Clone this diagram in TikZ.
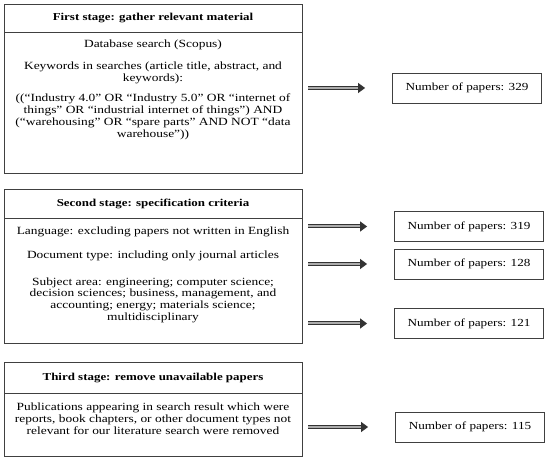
\documentclass[tikz,border=0pt]{standalone}
\usepackage{fontspec}
\setmainfont[FakeStretch=1.22]{Liberation Serif}
\usetikzlibrary{positioning,arrows.meta}

\tikzset{
  stagetitle/.style={draw=black!75, line width=0.8pt, minimum width=298pt, inner sep=0pt, font=\fontsize{10.6}{12}\selectfont\bfseries},
  stagebody/.style={draw=black!75, line width=0.8pt, minimum width=298pt, inner sep=0pt},
  bodytext/.style={align=center, inner sep=0pt, font=\fontsize{11}{11.9}\selectfont},
  countbox/.style={draw=black!75, line width=0.8pt, minimum width=149pt, minimum height=30pt, inner sep=0pt, font=\fontsize{10.8}{12}\selectfont},
  bigarrow/.style={draw=black!80, line width=1pt, double=gray!65, double distance=2pt, -{Triangle[length=7pt,width=10pt]}, shorten <=6pt, shorten >=27pt}
}

\begin{document}
\begin{tikzpicture}[x=1pt,y=-1pt]
  \useasboundingbox (0,0) rectangle (550,462);

  % first stage
  \node[stagetitle, minimum height=28pt] (s1t) at (153,18) {First stage: gather relevant material};
  \node[stagebody, minimum height=141pt, below=0pt of s1t] (s1b) {};
  \node[bodytext, below=7pt of s1b.north] (s1x) {Database search (Scopus)\\[10pt]
    Keywords in searches (article title, abstract, and\\ keywords):\\[9pt]
    ((“Industry 4.0” OR “Industry 5.0” OR “internet of\\ things” OR “industrial internet of things”) AND\\
    (“warehousing” OR “spare parts” AND NOT “data\\ warehouse”))};

  % second stage
  \node[stagetitle, minimum height=29pt] (s2t) at (153,203.5) {Second stage: specification criteria};
  \node[stagebody, minimum height=125pt, below=0pt of s2t] (s2b) {};
  \node[bodytext, below=8pt of s2b.north] (s2x) {Language: excluding papers not written in English\\[12pt]
    Document type: including only journal articles\\[15pt]
    Subject area: engineering; computer science;\\ decision sciences; business, management, and\\
    accounting; energy; materials science;\\ multidisciplinary};

  % third stage
  \node[stagetitle, minimum height=31pt] (s3t) at (153,377.5) {Third stage: remove unavailable papers};
  \node[stagebody, minimum height=63pt, below=0pt of s3t] (s3b) {};
  \node[bodytext, below=9pt of s3b.north] (s3x) {Publications appearing in search result which were\\
    reports, book chapters, or other document types not\\ relevant for our literature search were removed};

  % counts
  \node[countbox] (n1) at (467,88) {Number of papers: 329};
  \node[countbox] (n2) at (469,226.5) {Number of papers: 319};
  \node[countbox] (n3) at (469,264) {Number of papers: 128};
  \node[countbox] (n4) at (469,323.5) {Number of papers: 121};
  \node[countbox] (n5) at (470,427) {Number of papers: 115};

  \draw[bigarrow] (s1b.east |- n1.west) -- (n1.west);
  \draw[bigarrow] (s2b.east |- n2.west) -- (n2.west);
  \draw[bigarrow] (s2b.east |- n3.west) -- (n3.west);
  \draw[bigarrow] (s2b.east |- n4.west) -- (n4.west);
  \draw[bigarrow] (s3b.east |- n5.west) -- (n5.west);
\end{tikzpicture}
\end{document}
